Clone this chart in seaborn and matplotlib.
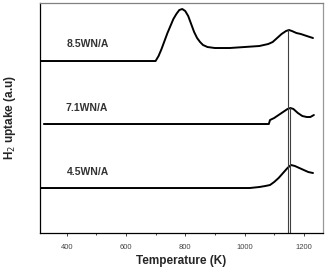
import pandas as pd
import matplotlib
matplotlib.use("Agg")
import matplotlib.pyplot as plt
import seaborn as sns

# Curvas de TPR (eixo y em unidades arbitrárias, com deslocamento)
temp_85 = [310, 700, 710, 720, 730, 740, 750, 760, 770, 780, 790, 800, 810, 820,
           830, 840, 850, 860, 875, 900, 950, 1000, 1050, 1080, 1095, 1110, 1125,
           1140, 1150, 1160, 1175, 1190, 1210, 1231]
h2_85 = [172, 172, 177, 184, 192, 200, 207, 214, 219, 223, 224, 222, 217, 209,
         201, 195, 191, 188, 186, 185, 185, 186, 187, 189, 191, 195, 199,
         202, 203, 202, 200, 199, 197, 195]

temp_71 = [323, 1082, 1086, 1100, 1115, 1130, 1145, 1155, 1165, 1180, 1195, 1210,
           1222, 1234]
h2_71 = [109, 109, 113, 115, 118, 121, 124, 125, 124, 120, 117, 116, 116, 118]

temp_45 = [310, 1018, 1050, 1070, 1086, 1100, 1115, 1130, 1145, 1157, 1170, 1185,
           1200, 1215, 1231]
h2_45 = [45, 45, 46, 47, 48, 51, 55, 60, 65, 68, 67, 65, 63, 61, 60]

labels = ["8.5WN/A", "7.1WN/A", "4.5WN/A"]
label_pos = [(400, 186), (395, 122), (400, 58)]

# linhas verticais marcando o pico de alta temperatura
vlines_t = [1147, 1153]
vlines_top = [203, 125]

df = pd.concat([
    pd.DataFrame({"T": temp_85, "H2": h2_85, "amostra": labels[0]}),
    pd.DataFrame({"T": temp_71, "H2": h2_71, "amostra": labels[1]}),
    pd.DataFrame({"T": temp_45, "H2": h2_45, "amostra": labels[2]}),
])

sns.set_style("white")
plt.rcParams["font.family"] = ["Liberation Sans", "DejaVu Sans"]

fig = plt.figure(figsize=(3.26, 2.74), dpi=100)
ax = fig.add_axes([0.1227, 0.1496, 0.8683, 0.8394])

sns.lineplot(data=df, x="T", y="H2", units="amostra", estimator=None,
             color="black", linewidth=1.4, sort=False, ax=ax)

for t, top in zip(vlines_t, vlines_top):
    ax.plot([t, t], [0, top], color="0.25", linewidth=0.8)

for lab, (x, y) in zip(labels, label_pos):
    ax.text(x, y, lab, fontsize=7.5, fontweight="bold", color="#333333")

ax.set_xlim(310, 1265)
ax.set_ylim(0, 230)
ax.set_xticks([400, 600, 800, 1000, 1200])
ax.set_xticks([500, 700, 900, 1100], minor=True)
ax.set_yticks([])
ax.tick_params(axis="x", which="major", direction="out", length=2, width=0.6,
               labelsize=5.5, labelcolor="#444444", pad=6, bottom=True)
ax.tick_params(axis="x", which="minor", direction="out", length=1.5, width=0.6,
               bottom=True)

ax.set_xlabel("Temperature (K)", fontsize=8.5, fontweight="bold", labelpad=3)
ax.set_ylabel("H$_2$ uptake (a.u)", fontsize=8.5, fontweight="bold", labelpad=16)

for s in ax.spines.values():
    s.set_color("black")
    s.set_linewidth(0.9)
ax.spines["right"].set_color("0.6")
ax.spines["top"].set_color("0.5")

plt.savefig("out.png", dpi=100)
plt.close()
